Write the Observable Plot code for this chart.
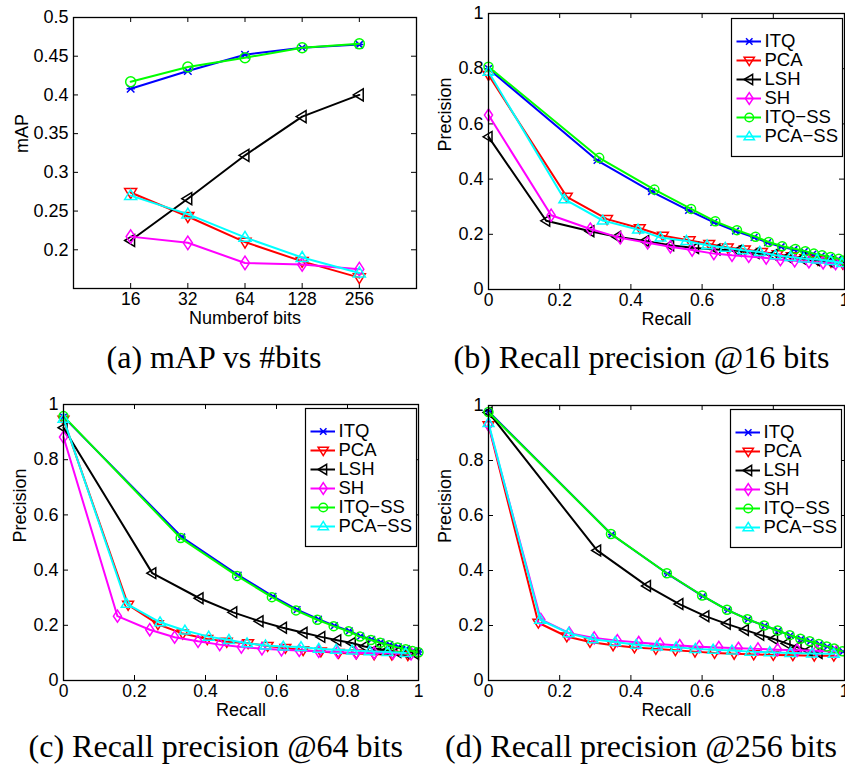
<!DOCTYPE html>
<html><head><meta charset="utf-8">
<script src="https://cdn.jsdelivr.net/npm/d3@7"></script>
<script src="https://cdn.jsdelivr.net/npm/@observablehq/plot@0.6"></script>
<style>
html,body{margin:0;padding:0;background:#fff;overflow:hidden;}
#fig{position:relative;width:845px;height:776px;overflow:hidden;background:#fff;}
.pane{position:absolute;}
.cap{position:absolute;width:500px;text-align:center;font-family:"Liberation Serif","Times New Roman",serif;font-size:32px;line-height:32px;white-space:nowrap;color:#000;}
</style></head><body><div id="fig"></div>
<script>
// ---------- data ----------
const seriesNames = ["ITQ", "PCA", "LSH", "SH", "ITQ-SS", "PCA-SS"];
const seriesColors = ["#0000ff", "#ff0000", "#000000", "#ff00ff", "#00ff00", "#00ffff"];

// (a) mAP vs number of bits
const bits = [16, 32, 64, 128, 256];
const mapITQ   = [0.408, 0.431, 0.452, 0.461, 0.465];
const mapPCA   = [0.274, 0.243, 0.210, 0.185, 0.164];
const mapLSH   = [0.212, 0.266, 0.322, 0.372, 0.400];
const mapSH    = [0.217, 0.209, 0.183, 0.181, 0.175];
const mapITQSS = [0.417, 0.436, 0.448, 0.461, 0.466];
const mapPCASS = [0.270, 0.246, 0.216, 0.190, 0.170];

// (b) recall / precision @16 bits  [recall, precision]
const pr16ITQ   = [[0,0.800],[0.305,0.468],[0.458,0.355],[0.562,0.287],[0.633,0.243],[0.694,0.212],[0.746,0.189],[0.784,0.170],[0.822,0.155],[0.858,0.145],[0.887,0.137],[0.911,0.128],[0.935,0.122],[0.958,0.116],[0.982,0.110],[1.0,0.104]];
const pr16PCA   = [[0,0.777],[0.220,0.336],[0.333,0.255],[0.425,0.222],[0.490,0.195],[0.565,0.178],[0.620,0.165],[0.672,0.152],[0.720,0.145],[0.768,0.136],[0.812,0.128],[0.852,0.120],[0.890,0.113],[0.925,0.107],[0.962,0.100],[0.995,0.094]];
const pr16LSH   = [[0,0.553],[0.162,0.249],[0.286,0.211],[0.361,0.191],[0.440,0.176],[0.510,0.160],[0.580,0.150],[0.640,0.145],[0.700,0.140],[0.750,0.132],[0.800,0.125],[0.840,0.118],[0.880,0.112],[0.920,0.106],[0.960,0.100],[1.0,0.095]];
const pr16SH    = [[0,0.632],[0.176,0.269],[0.286,0.219],[0.370,0.187],[0.447,0.169],[0.511,0.155],[0.572,0.143],[0.633,0.130],[0.684,0.124],[0.731,0.120],[0.780,0.114],[0.820,0.108],[0.860,0.104],[0.900,0.100],[0.940,0.097],[0.975,0.094],[1.0,0.092]];
const pr16ITQSS = [[0,0.807],[0.311,0.477],[0.466,0.362],[0.569,0.292],[0.637,0.247],[0.698,0.215],[0.750,0.191],[0.787,0.172],[0.825,0.157],[0.862,0.147],[0.890,0.139],[0.914,0.130],[0.937,0.124],[0.961,0.118],[0.984,0.111],[1.0,0.105]];
const pr16PCASS = [[0,0.789],[0.213,0.327],[0.321,0.250],[0.420,0.217],[0.483,0.188],[0.556,0.176],[0.614,0.160],[0.665,0.151],[0.715,0.142],[0.762,0.136],[0.806,0.124],[0.848,0.118],[0.886,0.112],[0.923,0.109],[0.961,0.103],[0.993,0.096]];

// (c) recall / precision @64 bits
const pr64ITQ   = [[0,0.955],[0.333,0.520],[0.492,0.382],[0.590,0.305],[0.658,0.257],[0.718,0.222],[0.763,0.199],[0.805,0.180],[0.837,0.161],[0.868,0.149],[0.894,0.139],[0.919,0.130],[0.943,0.122],[0.966,0.115],[0.985,0.108],[1.0,0.103]];
const pr64PCA   = [[0,0.945],[0.182,0.274],[0.266,0.204],[0.336,0.170],[0.405,0.150],[0.460,0.140],[0.520,0.135],[0.575,0.125],[0.625,0.118],[0.675,0.110],[0.725,0.105],[0.775,0.100],[0.825,0.098],[0.875,0.095],[0.925,0.094],[0.970,0.092]];
const pr64LSH   = [[0,0.916],[0.250,0.389],[0.383,0.298],[0.478,0.247],[0.552,0.215],[0.618,0.191],[0.676,0.173],[0.726,0.158],[0.771,0.146],[0.812,0.136],[0.848,0.123],[0.883,0.115],[0.911,0.109],[0.940,0.103],[0.966,0.099],[0.990,0.097]];
const pr64SH    = [[0,0.882],[0.152,0.233],[0.243,0.184],[0.313,0.157],[0.379,0.142],[0.440,0.130],[0.501,0.121],[0.559,0.115],[0.614,0.111],[0.664,0.109],[0.719,0.106],[0.772,0.103],[0.824,0.100],[0.875,0.100],[0.928,0.099],[0.979,0.097]];
const pr64ITQSS = [[0,0.958],[0.330,0.516],[0.489,0.379],[0.587,0.302],[0.655,0.254],[0.715,0.220],[0.761,0.197],[0.803,0.178],[0.835,0.159],[0.866,0.147],[0.892,0.137],[0.917,0.128],[0.941,0.120],[0.964,0.113],[0.983,0.107],[1.0,0.102]];
const pr64PCASS = [[0,0.948],[0.178,0.278],[0.272,0.211],[0.342,0.181],[0.409,0.159],[0.466,0.147],[0.517,0.135],[0.569,0.127],[0.619,0.123],[0.669,0.121],[0.719,0.115],[0.768,0.111],[0.813,0.109],[0.862,0.106],[0.913,0.103],[0.964,0.100]];

// (d) recall / precision @256 bits
const pr256ITQ   = [[0,0.978],[0.346,0.531],[0.503,0.388],[0.602,0.307],[0.672,0.256],[0.729,0.222],[0.776,0.199],[0.814,0.181],[0.848,0.164],[0.878,0.151],[0.904,0.142],[0.930,0.132],[0.952,0.123],[0.973,0.115],[0.996,0.105]];
const pr256PCA   = [[0,0.928],[0.140,0.210],[0.220,0.160],[0.285,0.140],[0.350,0.128],[0.410,0.120],[0.470,0.115],[0.525,0.110],[0.580,0.105],[0.635,0.100],[0.690,0.097],[0.745,0.095],[0.800,0.093],[0.855,0.092],[0.915,0.090],[0.970,0.090]];
const pr256LSH   = [[0,0.975],[0.305,0.473],[0.445,0.344],[0.536,0.278],[0.609,0.234],[0.669,0.206],[0.720,0.184],[0.763,0.166],[0.802,0.151],[0.837,0.135],[0.868,0.121],[0.899,0.109],[0.927,0.100]];
const pr256SH    = [[0,0.930],[0.147,0.222],[0.227,0.172],[0.297,0.155],[0.362,0.145],[0.422,0.138],[0.482,0.132],[0.537,0.127],[0.592,0.123],[0.647,0.120],[0.702,0.117],[0.757,0.115],[0.812,0.112],[0.867,0.110],[0.922,0.108],[0.977,0.105]];
const pr256ITQSS = [[0,0.976],[0.344,0.533],[0.501,0.390],[0.600,0.309],[0.670,0.257],[0.727,0.223],[0.774,0.200],[0.812,0.182],[0.846,0.165],[0.876,0.152],[0.902,0.143],[0.928,0.133],[0.950,0.124],[0.971,0.116],[0.994,0.106]];
const pr256PCASS = [[0,0.936],[0.145,0.221],[0.225,0.172],[0.293,0.150],[0.356,0.140],[0.415,0.130],[0.473,0.124],[0.527,0.121],[0.581,0.115],[0.631,0.112],[0.684,0.109],[0.736,0.105],[0.790,0.103],[0.848,0.100],[0.909,0.098],[0.970,0.097]];

// tick values and texts
const bitTicks = [16, 32, 64, 128, 256];
const mapTicks = [0.2, 0.25, 0.3, 0.35, 0.4, 0.45, 0.5];
const unitTicks = [0, 0.2, 0.4, 0.6, 0.8, 1];
const captions = ["(a) mAP vs #bits", "(b) Recall precision @16 bits", "(c) Recall precision @64 bits", "(d) Recall precision @256 bits"];

// ---------- marker symbols (MATLAB style) ----------
const rad = s => Math.sqrt(s / Math.PI);
const symX = {draw(c, s) { const r = rad(s) * 0.75; c.moveTo(-r, -r); c.lineTo(r, r); c.moveTo(-r, r); c.lineTo(r, -r); c.moveTo(-r*1.1, 0); c.lineTo(r*1.1, 0); }};
const symTriDown = {draw(c, s) { const r = rad(s) * 1.2; c.moveTo(-r, -r * 0.65); c.lineTo(r, -r * 0.65); c.lineTo(0, r); c.closePath(); }};
const symTriUp = {draw(c, s) { const r = rad(s) * 1.2; c.moveTo(-r, r * 0.65); c.lineTo(r, r * 0.65); c.lineTo(0, -r); c.closePath(); }};
const symTriLeft = {draw(c, s) { const r = rad(s) * 1.2; c.moveTo(-r, 0); c.lineTo(r * 0.65, -r); c.lineTo(r * 0.65, r); c.closePath(); }};
const symDiamond = {draw(c, s) { const r = rad(s); c.moveTo(0, -r * 1.35); c.lineTo(r * 0.9, 0); c.lineTo(0, r * 1.35); c.lineTo(-r * 0.9, 0); c.closePath(); }};
const symCircle = {draw(c, s) { const r = rad(s); c.moveTo(r, 0); c.arc(0, 0, r, 0, 2 * Math.PI); }};
const seriesSymbols = [symX, symTriDown, symTriLeft, symDiamond, symCircle, symTriUp];

const FONT = '"Liberation Sans", Arial, Helvetica, sans-serif';
const fig = document.getElementById("fig");

function panel({left, top, w, h, m, x, y, xticks, yticks, xlabel, ylabel, ylabelDx, series, r}) {
  const fw = w - m[1] - m[3], fh = h - m[0] - m[2];
  const marks = [
    Plot.tickX(xticks, {x: d => d, insetTop: fh - 5, stroke: "black"}),
    Plot.tickX(xticks, {x: d => d, insetBottom: fh - 5, stroke: "black"}),
    Plot.tickY(yticks, {y: d => d, insetRight: fw - 5, stroke: "black"}),
    Plot.tickY(yticks, {y: d => d, insetLeft: fw - 5, stroke: "black"}),
    Plot.axisX({ticks: xticks, tickSize: 0, tickPadding: 4, tickFormat: d => String(d), fontSize: 17.5, label: null}),
    Plot.axisY({ticks: yticks, tickSize: 0, tickPadding: 5, tickFormat: d => String(d), fontSize: 18, label: null}),
    Plot.text([xlabel], {frameAnchor: "bottom", dy: 35, text: d => d, fontSize: 18}),
    Plot.text([ylabel], {frameAnchor: "left", dx: ylabelDx, rotate: -90, text: d => d, fontSize: 18})
  ];
  series.forEach((pts, i) => {
    marks.push(Plot.line(pts, {x: d => d[0], y: d => d[1], stroke: seriesColors[i], strokeWidth: 2}));
    marks.push(Plot.dot(pts, {x: d => d[0], y: d => d[1], symbol: seriesSymbols[i], r, stroke: seriesColors[i], fill: "none", strokeWidth: 1.5}));
  });
  marks.push(Plot.frame({stroke: "black", strokeWidth: 1.3}));
  const svg = Plot.plot({
    width: w, height: h,
    marginTop: m[0], marginRight: m[1], marginBottom: m[2], marginLeft: m[3],
    x, y,
    style: {fontFamily: FONT, fontSize: "18px", background: "transparent", color: "black", overflow: "visible"},
    marks
  });
  svg.classList.add("pane");
  svg.style.left = left + "px";
  svg.style.top = top + "px";
  fig.appendChild(svg);
}

function legend(left, top) {
  const W = 111, H = 138;
  const marks = [Plot.frame({fill: "white", stroke: "black", strokeWidth: 1.2})];
  seriesNames.forEach((n, i) => {
    marks.push(Plot.ruleY([n], {y: d => d, x1: 5.5, x2: 30, stroke: seriesColors[i], strokeWidth: 2}));
    marks.push(Plot.dot([n], {y: d => d, x: 17.75, symbol: seriesSymbols[i], r: 4.3, stroke: seriesColors[i], fill: "none", strokeWidth: 1.5}));
    marks.push(Plot.text([n], {y: d => d, x: 33, text: d => d.replace("-", "\u2212"), textAnchor: "start", fontSize: 18.5}));
  });
  const svg = Plot.plot({
    width: W, height: H, margin: 0,
    x: {type: "identity", axis: null},
    y: {type: "point", domain: seriesNames, range: [13, 127], axis: null},
    style: {fontFamily: FONT, fontSize: "18px", background: "transparent", color: "black", overflow: "visible"},
    marks
  });
  svg.classList.add("pane");
  svg.style.left = left + "px";
  svg.style.top = top + "px";
  fig.appendChild(svg);
}

// (a)
const mapSeries = [mapITQ, mapPCA, mapLSH, mapSH, mapITQSS, mapPCASS].map(vals => bits.map((b, i) => [b, vals[i]]));
panel({left: 0, top: 0, w: 420, h: 330, m: [17, 4, 42, 73],
  x: {type: "log", base: 2, domain: [8, 512]}, y: {domain: [0.15, 0.5]},
  xticks: bitTicks, yticks: mapTicks, xlabel: "Numberof bits", ylabel: "mAP", ylabelDx: -51,
  series: mapSeries, r: 5});
// (b)
panel({left: 420, top: 0, w: 425, h: 330, m: [13, 1, 41, 68],
  x: {domain: [0, 1]}, y: {domain: [0, 1]},
  xticks: unitTicks, yticks: unitTicks, xlabel: "Recall", ylabel: "Precision", ylabelDx: -43,
  series: [pr16ITQ, pr16PCA, pr16LSH, pr16SH, pr16ITQSS, pr16PCASS], r: 4.5});
// (c)
panel({left: 0, top: 390, w: 420, h: 330, m: [14, 2, 40, 63],
  x: {domain: [0, 1]}, y: {domain: [0, 1]},
  xticks: unitTicks, yticks: unitTicks, xlabel: "Recall", ylabel: "Precision", ylabelDx: -43,
  series: [pr64ITQ, pr64PCA, pr64LSH, pr64SH, pr64ITQSS, pr64PCASS], r: 4.5});
// (d)
panel({left: 420, top: 390, w: 425, h: 330, m: [15, 1, 40, 68],
  x: {domain: [0, 1]}, y: {domain: [0, 1]},
  xticks: unitTicks, yticks: unitTicks, xlabel: "Recall", ylabel: "Precision", ylabelDx: -43,
  series: [pr256ITQ, pr256PCA, pr256LSH, pr256SH, pr256ITQSS, pr256PCASS], r: 4.5});

legend(731, 17.5);
legend(304.5, 407.5);
legend(730, 408.5);

// captions
const capPos = [[214, 341], [641.5, 341], [215.7, 730], [641, 730]];
captions.forEach((t, i) => {
  const d = document.createElement("div");
  d.className = "cap";
  d.textContent = t;
  d.style.left = (capPos[i][0] - 250) + "px";
  d.style.top = capPos[i][1] + "px";
  fig.appendChild(d);
});
</script></body></html>
